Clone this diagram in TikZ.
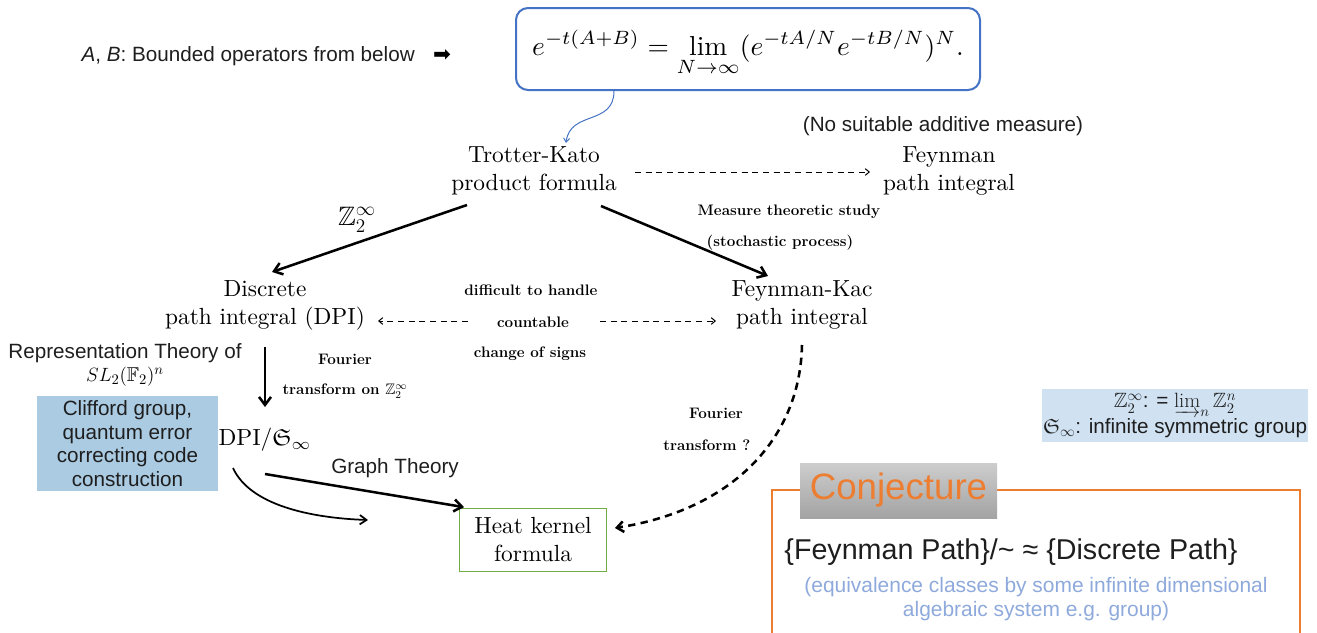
\documentclass[tikz,border=0pt]{standalone}
\usepackage{amsmath,amssymb}
\usepackage{fontspec}
\newfontfamily\sansf{Liberation Sans}
\newfontfamily\dejavu{DejaVu Sans}
\usetikzlibrary{arrows.meta,calc}
\definecolor{fblue}{RGB}{68,114,196}
\definecolor{cgreen}{RGB}{112,173,71}
\definecolor{corange}{RGB}{237,125,49}
\definecolor{cliff}{RGB}{171,203,227}
\definecolor{lightb}{RGB}{208,226,242}
\definecolor{eqblue}{RGB}{142,169,219}
\definecolor{cgreyA}{RGB}{205,205,205}
\definecolor{cgreyB}{RGB}{163,163,163}
\definecolor{ink}{RGB}{30,30,30}
\tikzset{
  main/.style={align=center, font=\fontsize{10}{12}\selectfont, inner sep=1.2pt, scale=1.75, transform shape},
  lbl/.style={font=\fontsize{11.4}{13}\selectfont\bfseries, inner sep=1pt},
  sans/.style={font=\sansf\fontsize{15.5}{17.6}\selectfont, inner sep=1pt, text=ink},
  arr/.style={line width=1.9pt, -{Straight Barb[length=6pt,width=9pt]}},
  dasharr/.style={line width=0.75pt, dash pattern=on 4.5pt off 3.5pt, -{Straight Barb[length=3pt,width=5pt]}},
  thickdash/.style={line width=1.9pt, dash pattern=on 5.5pt off 4pt, -{Straight Barb[length=5pt,width=8pt]}},
}
\begin{document}
\begin{tikzpicture}[x=0.75pt,y=-0.75pt]
\useasboundingbox (0,0) rectangle (1317,632);

% top line
\node[sans, anchor=west] (ab) at (80,56) {\textit{A}, \textit{B}: Bounded operators from below};
\node[inner sep=0pt] (ar) at (442,56) {\dejavu\fontsize{16}{16}\selectfont ➡};

% formula box
\node[draw=fblue, line width=1.5pt, rounded corners=9pt, minimum width=348pt, minimum height=61.5pt] (form) at (748,49) {};
\node[font=\fontsize{10}{12}\selectfont, inner sep=0pt, scale=2.06, transform shape] (formula) at (748,53)
  {$\displaystyle e^{-t(A+B)} = \lim_{N\to\infty}(e^{-tA/N}e^{-tB/N})^{N}.$};

% main nodes
\node[main] (tk) at (534,171) {Trotter-Kato\\product formula};
\node[main] (fey) at (949,171) {Feynman\\path integral};
\node[sans] (nosuit) at (943,126) {(No suitable additive measure)};
\node[main] (disc) at (265,305) {Discrete\\path integral (DPI)};
\node[main] (fk) at (802,305) {Feynman-Kac\\path integral};
\node[main] (dpi) at (265,440) {DPI/$\mathfrak{S}_\infty$};
\node[main, draw=cgreen, line width=0.75pt, minimum width=62.6pt, minimum height=27.4pt] (heat) at (533,540) {Heat kernel\\formula};

% small bold labels
\node[lbl] (mts) at (789,212) {Measure theoretic study};
\node[lbl] (sp) at (780,243) {(stochastic process)};
\node[lbl] (dh) at (531,290) {difficult to handle};
\node[lbl] (cnt) at (533,322) {countable};
\node[lbl] (cos) at (530,354) {change of signs};
\node[lbl] (fo1) at (345,359) {Fourier};
\node[lbl] (fo2) at (345,391) {transform on $\mathbb{Z}_2^\infty$};
\node[lbl] (fo3) at (716,413) {Fourier};
\node[lbl] (fo4) at (707,445) {transform ?};
\node[font=\fontsize{20}{20}\selectfont] (z2) at (357,220) {$\mathbb{Z}_2^\infty$};

% left annotations
\node[sans] (rep) at (125,353) {Representation Theory of};
\node[font=\fontsize{15}{15}\selectfont] (sl) at (125,377) {$SL_2(\mathbb{F}_2)^n$};
\node[sans, fill=cliff, align=center, minimum width=135.75pt, minimum height=71.25pt] (cliff) at (127.5,443.5)
  {Clifford group,\\quantum error\\correcting code\\construction};
\node[sans] (gt) at (395,468) {Graph Theory};

% definitions box
\node[sans, fill=lightb, align=center, minimum width=198pt, minimum height=39.75pt,
      font=\sansf\fontsize{15.5}{19.5}\selectfont] (defs) at (1175,415.5)
  {$\mathbb{Z}_2^\infty$: = $\varinjlim_n\mathbb{Z}_2^n$\\$\mathfrak{S}_\infty$: infinite symmetric group};

% conjecture
\draw[corange, line width=1.5pt] (772,640) -- (772,490) -- (1300,490) -- (1300,640);
\node[top color=cgreyA, bottom color=cgreyB, text=corange, font=\sansf\fontsize{27.5}{30}\selectfont,
      minimum width=147.75pt, minimum height=41.25pt, inner sep=0pt] (conj) at (898.5,490.5) {Conjecture};
\node[font=\sansf\fontsize{21.5}{24}\selectfont, text=ink] (fp) at (1011,552)
  {\{Feynman Path\}/\textasciitilde{} ≈ \{Discrete Path\}};
\node[font=\sansf\fontsize{15.7}{18}\selectfont, text=eqblue, align=center] (eq) at (1036,599)
  {(equivalence classes by some infinite dimensional\\algebraic system e.g. group)};

% connectors
\draw[fblue, line width=0.75pt, -{Straight Barb[length=3pt,width=4.5pt]}]
  ($(form.south)+(-134,0)$) .. controls +(0,35) and +(4,-33) .. ($(tk)+(32,-28)$);
\draw[dasharr] ($(tk)+(101,1)$) -- ($(fey)+(-79,1)$);
\draw[arr] ($(tk)+(-67,34)$) -- ($(disc)+(7,-33)$);
\draw[arr] ($(tk)+(67,35)$) -- ($(fk)+(-34,-29)$);
\draw[dasharr] ($(cnt)+(-65,-1)$) -- ($(disc)+(113,16)$);
\draw[dasharr] ($(cnt)+(67,-1)$) -- ($(fk)+(-86,16)$);
\draw[arr] ($(disc)+(0,42)$) -- ($(dpi)+(0,-33)$);
\draw[arr] ($(dpi)+(0,34)$) -- ($(heat.north west)+(5,0)$);
\coordinate (cv) at (368,520);
\draw[line width=1.3pt, -{Straight Barb[length=5pt,width=7pt]}]
  ($(dpi)+(-32,28)$) .. controls +(17,37) and +(-58,-2) .. (cv);
\draw[thickdash] ($(fk)+(0,40)$) .. controls +(-2,95) and +(116,-18) .. ($(heat.east)+(8,-12)$);
\end{tikzpicture}
\end{document}
